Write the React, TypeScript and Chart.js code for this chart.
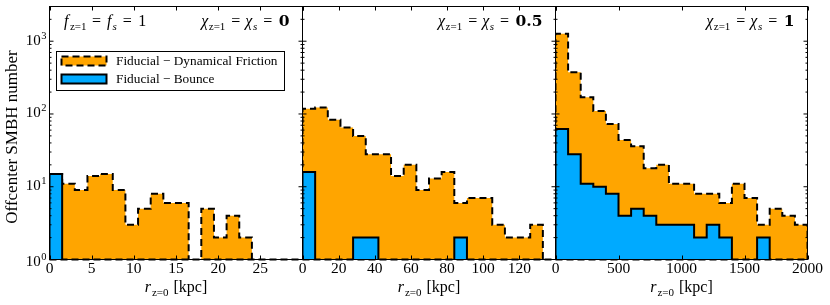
import React, { useEffect, useRef } from 'react';
import { Chart, registerables } from 'chart.js';

Chart.register(...registerables);

// ---------------- data ----------------
// 20 equal-width bins per panel
const X_MAX_A = 30;
const X_MAX_B = 140;
const X_MAX_C = 2000;
const X_STEP_A = 5;
const X_STEP_B = 20;
const X_STEP_C = 500;

const DF_A = [15, 11, 9, 14, 15, 9, 3, 5, 8, 6, 6, 0, 5, 2, 4, 2, 0, 0, 0, 0];
const BOUNCE_A = [15, 0, 0, 0, 0, 0, 0, 0, 0, 0, 0, 0, 0, 0, 0, 0, 0, 0, 0, 0];
const DF_B = [118, 123, 83, 65, 50, 28, 28, 14, 20, 9, 13, 16, 6, 7, 7, 3, 2, 2, 3, 0];
const BOUNCE_B = [16, 0, 0, 0, 2, 2, 0, 0, 0, 0, 0, 0, 2, 0, 0, 0, 0, 0, 0, 0];
const DF_C = [1270, 375, 170, 110, 73, 44, 36, 18, 20, 11, 11, 8, 8, 6, 11, 7, 3, 5, 4, 3];
const BOUNCE_C = [62, 28, 11, 10, 8, 4, 5, 4, 3, 3, 3, 2, 3, 2, 0, 0, 2, 0, 0, 0];

const Y_MIN = 1;
const Y_MAX = 3000;
const Y_MAJOR = [1, 10, 100, 1000];
const Y_MAJOR_EXP = ['0', '1', '2', '3'];
const SPIN_LABELS = ['0', '0.5', '1'];
const LABEL_DF = 'Fiducial \u2212 Dynamical Friction';
const LABEL_BOUNCE = 'Fiducial \u2212 Bounce';
const Y_TITLE = 'Offcenter SMBH number';

// ---------------- style / layout ----------------
const FIG_W = 830;
const FIG_H = 305;
const AREA_TOP = 6.5;
const AREA_BOTTOM = 259.5;
const PANEL_EDGES = [49.5, 302.5, 555.5, 807.5];
const ORANGE = '#ffa500';
const BLUE = '#00aaff';
const DASH = [7, 4];
const FLOOR = 0.1; // empty bins drawn below the axis (clipped)
const SERIF_FAMILY = '"Liberation Serif", "Times New Roman", serif';
const BOLD_FAMILY = '"DejaVu Serif", serif';
const sf = (size: number, style = '') => `${style} ${size}px ${SERIF_FAMILY}`.trim();

type Run = { t: string; font: string; dy?: number; gap?: number };

function runsWidth(ctx: CanvasRenderingContext2D, runs: Run[]) {
  let w = 0;
  for (const r of runs) {
    ctx.font = r.font;
    w += (r.gap || 0) + ctx.measureText(r.t).width;
  }
  return w;
}

function drawRuns(ctx: CanvasRenderingContext2D, runs: Run[], x: number, y: number, align: 'left' | 'center' | 'right') {
  const w = runsWidth(ctx, runs);
  let cx = align === 'left' ? x : align === 'center' ? x - w / 2 : x - w;
  ctx.textAlign = 'left';
  ctx.textBaseline = 'alphabetic';
  for (const r of runs) {
    cx += r.gap || 0;
    ctx.font = r.font;
    ctx.fillText(r.t, cx, y + (r.dy || 0));
    cx += ctx.measureText(r.t).width;
  }
}

function stepPoints(values: number[], xMax: number) {
  const w = xMax / values.length;
  const pts: { x: number; y: number }[] = [{ x: 0, y: FLOOR }];
  values.forEach((v, i) => {
    const y = v > 0 ? v : FLOOR;
    pts.push({ x: i * w, y }, { x: (i + 1) * w, y });
  });
  pts.push({ x: xMax, y: FLOOR });
  return pts;
}

const decorPlugin = {
  id: 'decor',
  afterDraw(chart: any, _args: any, opts: any) {
    const ctx: CanvasRenderingContext2D = chart.ctx;
    const a = chart.chartArea;
    const xs = chart.scales.x;
    const ys = chart.scales.y;
    ctx.save();
    ctx.strokeStyle = '#000';
    ctx.fillStyle = '#000';
    ctx.lineWidth = 1;
    ctx.setLineDash([]);

    // ticks (inward, all four sides)
    ctx.beginPath();
    xs.ticks.forEach((t: any) => {
      const px = Math.round(xs.getPixelForValue(t.value)) + 0.5;
      ctx.moveTo(px, a.bottom);
      ctx.lineTo(px, a.bottom - 4);
      ctx.moveTo(px, a.top);
      ctx.lineTo(px, a.top + 4);
    });
    Y_MAJOR.forEach((d) => {
      const py = ys.getPixelForValue(d);
      ctx.moveTo(a.left, py);
      ctx.lineTo(a.left + 4, py);
      ctx.moveTo(a.right, py);
      ctx.lineTo(a.right - 4, py);
      for (let m = 2; m <= 9; m++) {
        const v = m * d;
        if (v > Y_MAX) break;
        const pm = ys.getPixelForValue(v);
        ctx.moveTo(a.left, pm);
        ctx.lineTo(a.left + 2, pm);
        ctx.moveTo(a.right, pm);
        ctx.lineTo(a.right - 2, pm);
      }
    });
    ctx.stroke();

    // spines
    ctx.strokeRect(a.left, a.top, a.right - a.left, a.bottom - a.top);

    // y tick labels
    if (opts.yLabels) {
      Y_MAJOR.forEach((v, i) => {
        const py = ys.getPixelForValue(v);
        const base = py + 3.5 + (v === Y_MIN ? 3 : 0);
        drawRuns(ctx, [
          { t: '10', font: sf(15) },
          { t: Y_MAJOR_EXP[i], font: sf(10.5), dy: -6, gap: 0.5 },
        ], a.left - 3, base, 'right');
      });
      // y title
      ctx.save();
      ctx.translate(13, (a.top + a.bottom) / 2 + 4);
      ctx.rotate(-Math.PI / 2);
      ctx.font = sf(17);
      ctx.textAlign = 'center';
      ctx.textBaseline = 'middle';
      ctx.fillText(Y_TITLE, 0, 0);
      ctx.restore();
    }

    // x title
    drawRuns(ctx, [
      { t: 'r', font: sf(16, 'italic') },
      { t: 'z=0', font: sf(11), dy: 3.5, gap: 1 },
      { t: '[kpc]', font: sf(16), gap: 5 },
    ], (a.left + a.right) / 2, 292, 'center');

    // annotations
    if (opts.fNote) {
      drawRuns(ctx, [
        { t: 'f', font: sf(16, 'italic') },
        { t: 'z=1', font: sf(11), dy: 3.5, gap: 1.5 },
        { t: '=', font: sf(16), gap: 5.5 },
        { t: 'f', font: sf(16, 'italic'), gap: 6 },
        { t: 's', font: sf(11, 'italic'), dy: 3.5, gap: 1 },
        { t: '=', font: sf(16), gap: 6 },
        { t: '1', font: sf(16), gap: 6.5 },
      ], a.left + 14.5, 26, 'left');
    }
    if (opts.spin) {
      drawRuns(ctx, [
        { t: '\u03c7', font: sf(16, 'italic') },
        { t: 'z=1', font: sf(11), dy: 3.5, gap: 0.5 },
        { t: '=', font: sf(16), gap: 6 },
        { t: '\u03c7', font: sf(16, 'italic'), gap: 5 },
        { t: 's', font: sf(11, 'italic'), dy: 3.5, gap: 0.5 },
        { t: '=', font: sf(16), gap: 6 },
        { t: opts.spin, font: `bold 15.5px ${BOLD_FAMILY}`, gap: 6.5 },
      ], a.right - 13, 26, 'right');
    }

    // legend
    if (opts.legend) {
      const items = chart.data.datasets.filter((d: any) => d.label).slice().reverse();
      const bx = a.left + 7;
      const by = 51.5;
      const bw = 228;
      const bh = 39;
      ctx.fillStyle = '#fff';
      ctx.fillRect(bx, by, bw, bh);
      ctx.strokeStyle = '#000';
      ctx.lineWidth = 1;
      ctx.setLineDash([]);
      ctx.strokeRect(bx, by, bw, bh);
      items.forEach((d: any, i: number) => {
        const cy = by + 9.5 + i * 18;
        ctx.fillStyle = d.backgroundColor;
        ctx.fillRect(bx + 5, cy - 4.5, 45, 9);
        ctx.strokeStyle = d.borderColor;
        ctx.lineWidth = d.borderWidth;
        ctx.setLineDash(d.borderDash || []);
        ctx.strokeRect(bx + 5, cy - 4.5, 45, 9);
        ctx.setLineDash([]);
        ctx.fillStyle = '#000';
        ctx.font = sf(13.3);
        ctx.textAlign = 'left';
        ctx.textBaseline = 'middle';
        ctx.fillText(d.label, bx + 59.5, cy + 0.5);
      });
    }
    ctx.restore();
  },
};

type PanelCfg = {
  df: number[];
  bounce: number[];
  xMax: number;
  xStep: number;
  hideLast: boolean;
  spin: string;
  first: boolean;
};

const PANELS: PanelCfg[] = [
  { df: DF_A, bounce: BOUNCE_A, xMax: X_MAX_A, xStep: X_STEP_A, hideLast: true, spin: SPIN_LABELS[0], first: true },
  { df: DF_B, bounce: BOUNCE_B, xMax: X_MAX_B, xStep: X_STEP_B, hideLast: true, spin: SPIN_LABELS[1], first: false },
  { df: DF_C, bounce: BOUNCE_C, xMax: X_MAX_C, xStep: X_STEP_C, hideLast: false, spin: SPIN_LABELS[2], first: false },
];

function makeConfig(p: PanelCfg, i: number): any {
  const left = PANEL_EDGES[i];
  const right = PANEL_EDGES[i + 1];
  return {
    type: 'line',
    data: {
      datasets: [
        {
          label: LABEL_BOUNCE,
          data: stepPoints(p.bounce, p.xMax),
          borderColor: '#000',
          borderWidth: 2,
          backgroundColor: BLUE,
          fill: 'start',
          pointRadius: 0,
          tension: 0,
          borderJoinStyle: 'miter',
        },
        {
          label: '',
          data: [{ x: 0, y: Y_MIN }, { x: p.xMax, y: Y_MIN }],
          borderColor: '#000',
          borderWidth: 2,
          borderDash: DASH,
          fill: false,
          pointRadius: 0,
          clip: false,
        },
        {
          label: LABEL_DF,
          data: stepPoints(p.df, p.xMax),
          borderColor: '#000',
          borderWidth: 2,
          borderDash: DASH,
          backgroundColor: ORANGE,
          fill: 'start',
          pointRadius: 0,
          tension: 0,
          borderJoinStyle: 'miter',
        },
      ],
    },
    options: {
      responsive: false,
      animation: false,
      devicePixelRatio: 1,
      events: [],
      layout: { padding: { left, right: FIG_W - right, top: AREA_TOP, bottom: 0 } },
      scales: {
        x: {
          type: 'linear',
          min: 0,
          max: p.xMax,
          position: 'bottom',
          grid: { display: false, drawTicks: false },
          border: { display: false },
          ticks: {
            stepSize: p.xStep,
            autoSkip: false,
            maxRotation: 0,
            padding: 0,
            color: '#000',
            font: { family: SERIF_FAMILY, size: 15.5 },
            callback: (v: number) => (p.hideLast && v === p.xMax ? '' : String(v)),
          },
          afterFit: (s: any) => {
            s.height = FIG_H - AREA_BOTTOM;
          },
        },
        y: { type: 'logarithmic', min: Y_MIN, max: Y_MAX, display: false },
      },
      plugins: {
        legend: { display: false },
        tooltip: { enabled: false },
        decor: { yLabels: p.first, fNote: p.first, legend: p.first, spin: p.spin },
      },
    },
    plugins: [decorPlugin],
  };
}

export default function App() {
  const r0 = useRef<HTMLCanvasElement>(null);
  const r1 = useRef<HTMLCanvasElement>(null);
  const r2 = useRef<HTMLCanvasElement>(null);
  const refs = [r0, r1, r2];
  useEffect(() => {
    const charts = PANELS.map((p, i) => new Chart(refs[i].current as HTMLCanvasElement, makeConfig(p, i)));
    return () => charts.forEach((c) => c.destroy());
  }, []);
  return (
    <div style={{ position: 'absolute', left: 0, top: 0, width: FIG_W, height: FIG_H, background: '#fff' }}>
      {PANELS.map((_, i) => (
        <canvas
          key={i}
          ref={refs[i]}
          width={FIG_W}
          height={FIG_H}
          style={{ position: 'absolute', left: 0, top: 0, width: FIG_W, height: FIG_H }}
        />
      ))}
    </div>
  );
}
